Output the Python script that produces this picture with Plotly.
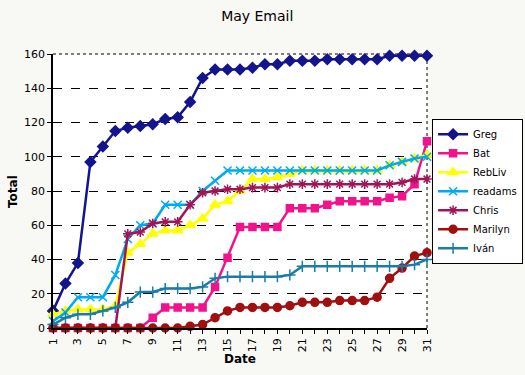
import plotly.graph_objects as go

days = list(range(1, 32))
x_tick_labels = ["1", "", "3", "", "5", "", "7", "", "9", "", "11", "", "13", "", "15", "",
                 "17", "", "19", "", "21", "", "23", "", "25", "", "27", "", "29", "", "31"]
y_tick_vals = [0, 20, 40, 60, 80, 100, 120, 140, 160]

greg = [10, 26, 38, 97, 106, 115, 117, 118, 119, 122, 123, 132, 146, 151, 151, 151,
        152, 154, 154, 156, 156, 156, 157, 157, 157, 157, 157, 159, 159, 159, 159]
bat = [0, 0, 0, 0, 0, 0, 0, 0, 6, 12, 12, 12, 12, 24, 41, 59,
       59, 59, 59, 70, 70, 70, 72, 74, 74, 74, 74, 76, 77, 84, 109]
rebliv = [8, 10, 11, 11, 11, 13, 44, 49, 55, 57, 57, 60, 64, 72, 74, 80,
          87, 87, 88, 90, 92, 92, 92, 92, 92, 92, 92, 95, 97, 99, 101]
readams = [4, 9, 18, 18, 18, 31, 52, 60, 61, 72, 72, 72, 80, 86, 92, 92,
           92, 92, 92, 92, 92, 92, 92, 92, 92, 92, 92, 95, 97, 99, 100]
chris = [0, 0, 0, 0, 0, 0, 55, 56, 61, 62, 62, 72, 79, 80, 81, 81,
         82, 82, 82, 84, 84, 84, 84, 84, 84, 84, 84, 84, 85, 87, 87]
marilyn = [0, 0, 0, 0, 0, 0, 0, 0, 0, 0, 0, 1, 2, 6, 10, 12,
           12, 12, 12, 13, 15, 15, 15, 16, 16, 16, 18, 29, 35, 42, 44]
ivan = [2, 6, 8, 8, 10, 12, 15, 21, 21, 23, 23, 23, 24, 29, 30, 30,
        30, 30, 30, 31, 36, 36, 36, 36, 36, 36, 36, 36, 36, 37, 40]

series = [
    ("Greg", greg, "#14148c", "diamond", 8),
    ("Bat", bat, "#f0148c", "square", 7),
    ("RebLiv", rebliv, "#ffff00", "triangle-up", 9),
    ("readams", readams, "#00aaee", "x-thin-open", 8),
    ("Chris", chris, "#a01458", "asterisk-open", 8),
    ("Marilyn", marilyn, "#a01010", "circle", 8),
    ("Iván", ivan, "#1a7ca8", "cross-thin-open", 8),
]

fig = go.Figure()
for name, vals, color, sym, size in series:
    fig.add_trace(go.Scatter(
        x=days, y=vals, name=name, mode="lines+markers",
        line=dict(color=color, width=2.5),
        marker=dict(symbol=sym, size=size, color=color,
                    line=dict(color=color, width=1.5)),
        cliponaxis=False,
    ))

font = "DejaVu Sans, Verdana, sans-serif"
fig.update_layout(
    width=525, height=375,
    margin=dict(l=53, r=98, t=54, b=47, autoexpand=False),
    paper_bgcolor="#f8f8f4",
    plot_bgcolor="#ffffff",
    font=dict(family=font, size=11, color="#000000"),
    title=dict(text="May Email", x=0.49, xanchor="center", y=0.969, yanchor="top",
               xref="container", yref="container",
               font=dict(family=font, size=14, color="#000000")),
    showlegend=True,
    legend=dict(xref="container", yref="container",
                x=0.823, xanchor="left", y=0.49, yanchor="middle",
                bgcolor="#ffffff", bordercolor="#000000", borderwidth=1,
                font=dict(family=font, size=10, color="#000000"),
                tracegroupgap=0, itemwidth=30),
    xaxis=dict(
        range=[1, 31], tickmode="array", tickvals=days, ticktext=x_tick_labels,
        tickangle=-90, ticks="outside", ticklen=4, tickcolor="#000000",
        showline=True, linecolor="#000000", linewidth=1.5,
        showgrid=False, zeroline=False, automargin=False,
    ),
    yaxis=dict(
        range=[0, 160], tickmode="array", tickvals=y_tick_vals,
        ticks="outside", ticklen=4, tickcolor="#000000",
        showline=True, linecolor="#000000", linewidth=1.5,
        showgrid=True, gridcolor="#000000", gridwidth=1, griddash="dash",
        zeroline=False, automargin=False,
    ),
    annotations=[
        dict(text="<b>Date</b>", xref="paper", yref="paper", x=0.5, y=-0.113,
             xanchor="center", yanchor="middle", showarrow=False,
             font=dict(family=font, size=12, color="#000000")),
        dict(text="<b>Total</b>", xref="paper", yref="paper", x=-0.107, y=0.5,
             xanchor="center", yanchor="middle", showarrow=False, textangle=-90,
             font=dict(family=font, size=12, color="#000000")),
    ],
)
# dotted plot-area border on top and right
fig.add_shape(type="line", xref="paper", yref="paper", x0=0, x1=1, y0=1, y1=1,
              line=dict(color="#000000", width=1, dash="dot"), layer="below")
fig.add_shape(type="line", xref="paper", yref="paper", x0=1, x1=1, y0=0, y1=1,
              line=dict(color="#000000", width=1, dash="dot"), layer="below")

fig.write_html("out.html",
               config={"displayModeBar": False},
               post_script="document.body.style.margin='0';document.body.style.background='#f8f8f4';")
